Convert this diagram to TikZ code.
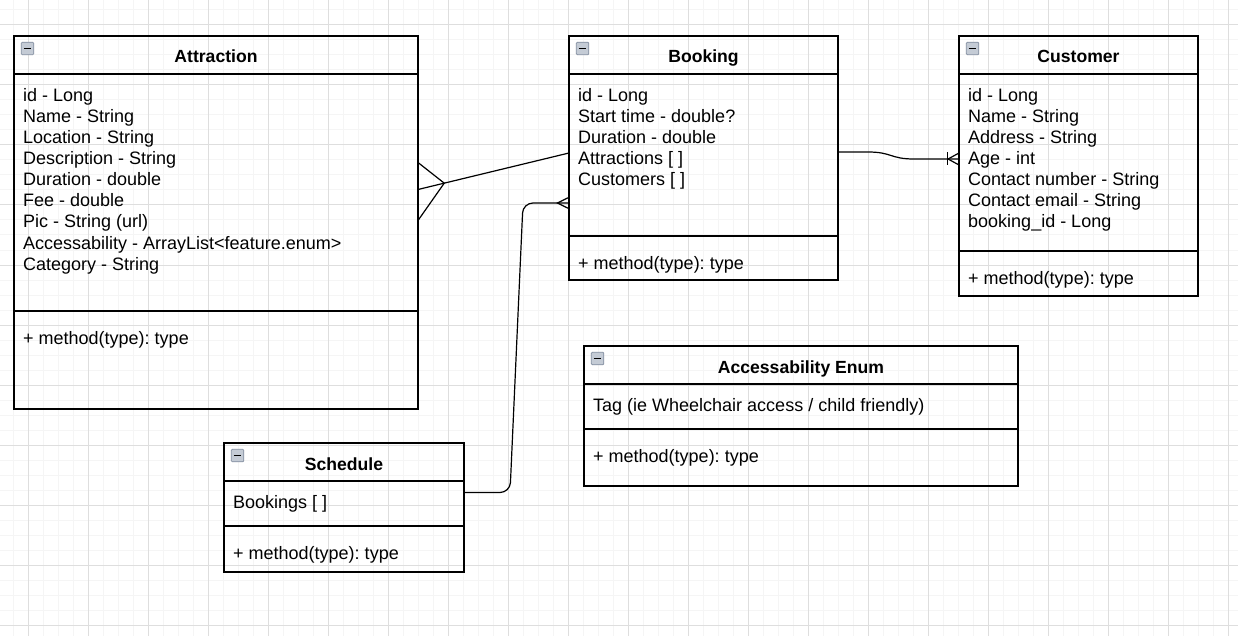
\documentclass[tikz,border=0pt]{standalone}
\usepackage{fontspec}
\setmainfont{Liberation Sans}
\usetikzlibrary{calc}
\frenchspacing

\definecolor{gridminor}{RGB}{245,245,245}
\definecolor{gridmajor}{RGB}{222,222,222}
\definecolor{iconfill}{RGB}{196,203,213}
\definecolor{iconline}{RGB}{128,140,158}

\tikzset{
	classpart/.style={draw, line width=1.2pt, inner sep=0pt, outer sep=0pt, anchor=north west},
	classtitle/.style={font=\fontsize{17.6}{21}\selectfont\bfseries, anchor=base, inner sep=0pt},
	fieldtext/.style={font=\fontsize{18}{21}\selectfont, anchor=base west, inner sep=0pt},
	classicon/.style={draw=iconline, fill=iconfill, line width=0.7pt, minimum size=12.5pt, inner sep=0pt, rounded corners=1pt},
	relation/.style={line width=1.2pt},
}

\begin{document}
\begin{tikzpicture}[x=1pt, y=-1pt]
	\useasboundingbox (0,0) rectangle (1238,636);
	\fill[white] (0,0) rectangle (1238,636);
	% grid
	\foreach \gx in {13,28,...,1238} \draw[gridminor, line width=1pt] (\gx,0) -- (\gx,636);
	\foreach \gy in {10,25,...,636} \draw[gridminor, line width=1pt] (0,\gy) -- (1238,\gy);
	\foreach \gx in {28,88,...,1238} \draw[gridmajor, line width=1pt] (\gx,0) -- (\gx,636);
	\foreach \gy in {25,85,...,636} \draw[gridmajor, line width=1pt] (0,\gy) -- (1238,\gy);

	% Attraction
	\node[classpart, minimum width=404, minimum height=38] (attr) at (14,36) {};
	\node[classpart, minimum width=404, minimum height=237] (attrF) at (attr.south west) {};
	\node[classpart, minimum width=404, minimum height=98] (attrM) at (attrF.south west) {};
	\node[classicon] (attrI) at ($(attr.north west)+(13.5,12.5)$) {};
	\draw[line width=1.6pt] ([xshift=3pt]attrI.west) -- ([xshift=-3pt]attrI.east);
	\node[classtitle] (attrT) at ($(attr.north)+(0,27)$) {Attraction};
	\foreach \t [count=\i] in {{id - Long}, {Name - String}, {Location - String}, {Description - String}, {Duration - double}, {Fee - double}, {Pic - String (url)}, {Accessability - ArrayList<feature.enum>}, {Category - String}}
		\node[fieldtext] (attrL\i) at ($(attrF.north west)+(9,7+21*\i)$) {\t};
	\node[fieldtext] (attrOp) at ($(attrM.north west)+(9,33)$) {+ method(type): type};

	% Booking
	\node[classpart, minimum width=269, minimum height=38] (book) at (569,36) {};
	\node[classpart, minimum width=269, minimum height=162] (bookF) at (book.south west) {};
	\node[classpart, minimum width=269, minimum height=44] (bookM) at (bookF.south west) {};
	\node[classicon] (bookI) at ($(book.north west)+(13.5,12.5)$) {};
	\draw[line width=1.6pt] ([xshift=3pt]bookI.west) -- ([xshift=-3pt]bookI.east);
	\node[classtitle] (bookT) at ($(book.north)+(0,27)$) {Booking};
	\foreach \t [count=\i] in {{id - Long}, {Start time - double?}, {Duration - double}, {Attractions [ ]}, {Customers [ ]}}
		\node[fieldtext] (bookL\i) at ($(bookF.north west)+(9,7+21*\i)$) {\t};
	\node[fieldtext] (bookOp) at ($(bookM.north west)+(9,33)$) {+ method(type): type};

	% Customer
	\node[classpart, minimum width=239, minimum height=38] (cust) at (959,36) {};
	\node[classpart, minimum width=239, minimum height=177] (custF) at (cust.south west) {};
	\node[classpart, minimum width=239, minimum height=45] (custM) at (custF.south west) {};
	\node[classicon] (custI) at ($(cust.north west)+(13.5,12.5)$) {};
	\draw[line width=1.6pt] ([xshift=3pt]custI.west) -- ([xshift=-3pt]custI.east);
	\node[classtitle] (custT) at ($(cust.north)+(0,27)$) {Customer};
	\foreach \t [count=\i] in {{id - Long}, {Name - String}, {Address - String}, {Age - int}, {Contact number - String}, {Contact email - String}, {booking\_id - Long}}
		\node[fieldtext] (custL\i) at ($(custF.north west)+(9,7+21*\i)$) {\t};
	\node[fieldtext] (custOp) at ($(custM.north west)+(9,33)$) {+ method(type): type};

	% Accessability Enum
	\node[classpart, minimum width=434, minimum height=38] (enum) at (584,346) {};
	\node[classpart, minimum width=434, minimum height=45] (enumF) at (enum.south west) {};
	\node[classpart, minimum width=434, minimum height=57] (enumM) at (enumF.south west) {};
	\node[classicon] (enumI) at ($(enum.north west)+(13.5,12.5)$) {};
	\draw[line width=1.6pt] ([xshift=3pt]enumI.west) -- ([xshift=-3pt]enumI.east);
	\node[classtitle] (enumT) at ($(enum.north)+(0,27)$) {Accessability Enum};
	\node[fieldtext] (enumL1) at ($(enumF.north west)+(9,27)$) {Tag (ie Wheelchair access / child friendly)};
	\node[fieldtext] (enumOp) at ($(enumM.north west)+(9,33)$) {+ method(type): type};

	% Schedule
	\node[classpart, minimum width=240, minimum height=38] (sch) at (224,443) {};
	\node[classpart, minimum width=240, minimum height=45] (schF) at (sch.south west) {};
	\node[classpart, minimum width=240, minimum height=46] (schM) at (schF.south west) {};
	\node[classicon] (schI) at ($(sch.north west)+(13.5,12.5)$) {};
	\draw[line width=1.6pt] ([xshift=3pt]schI.west) -- ([xshift=-3pt]schI.east);
	\node[classtitle] (schT) at ($(sch.north)+(0,27)$) {Schedule};
	\node[fieldtext] (schL1) at ($(schF.north west)+(9,27)$) {Bookings [ ]};
	\node[fieldtext] (schOp) at ($(schM.north west)+(9,33)$) {+ method(type): type};

	% booking -- attraction (many)
	\coordinate (bookOut) at ([yshift=2pt]bookF.west);
	\coordinate (attrIn) at ([yshift=3pt]attrF.east);
	\coordinate (attrFoot) at ($(attrIn)!27pt!(bookOut)$);
	\draw[relation] (bookOut) -- (attrIn);
	\draw[relation] ($(attrIn)+(0,-27)$) -- (attrFoot) -- ($(attrIn)+(0,31)$);

	% booking -- customer (one or many)
	\coordinate (bookOut2) at ([yshift=3pt]bookF.east);
	\coordinate (custIn) at ([yshift=3.5pt]custF.west);
	\draw[relation] (bookOut2) -- ++(30,0) .. controls +(24,0) and +(-24,0) .. ++(46,7) -- (custIn);
	\draw[relation] ($(custIn)+(-11.5,-6.5)$) -- ($(custIn)+(-11.5,6.5)$);
	\draw[relation] ($(custIn)+(0,-6)$) -- ($(custIn)+(-11,0)$) -- ($(custIn)+(0,6)$);

	% schedule -- booking (many)
	\coordinate (schOut) at ([yshift=11pt]schF.east);
	\coordinate (bookIn) at ([yshift=33pt]bookF.south west);
	\draw[relation, rounded corners=10] (schOut) -- ++(46,0) -- ([xshift=-46pt]bookIn) -- (bookIn);
	\draw[relation] ($(bookIn)+(0,-5.7)$) -- ($(bookIn)+(-11.5,0)$) -- ($(bookIn)+(0,5.7)$);
\end{tikzpicture}
\end{document}
